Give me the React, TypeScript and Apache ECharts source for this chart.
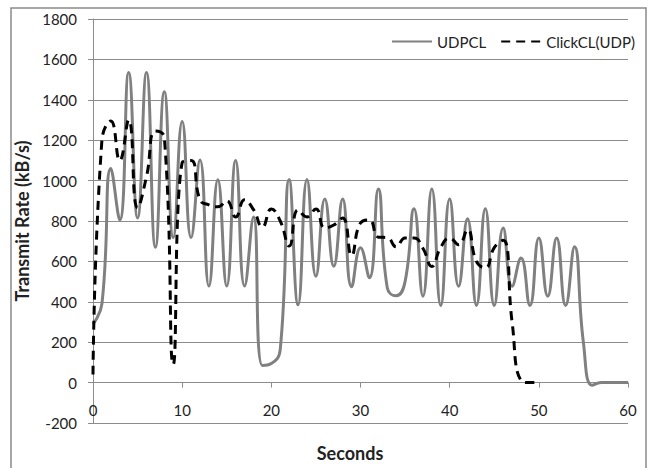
import React, { useEffect, useRef } from "react";
import * as echarts from "echarts";

const seconds = [
  0, 1, 2, 3, 4, 5, 6, 7, 8, 9, 10, 11, 12, 13, 14, 15, 16, 17, 18, 19, 20,
  21, 22, 23, 24, 25, 26, 27, 28, 29, 30, 31, 32, 33, 34, 35, 36, 37, 38, 39, 40,
  41, 42, 43, 44, 45, 46, 47, 48, 49, 50, 51, 52, 53, 54, 55, 56, 57, 58, 59, 60,
];

const udpcl = [
  290, 390, 1060, 805, 1535, 815, 1535, 670, 1440, 718, 1292,
  718, 1102, 478, 1004, 478, 1100, 478, 820, 85, 95,
  165, 1006, 385, 1006, 527, 909, 576, 909, 474, 667,
  519, 958, 470, 430, 500, 861, 428, 958, 382, 909,
  477, 811, 382, 861, 382, 765, 477, 617, 382, 716,
  428, 716, 382, 672, 198, -13, 0, 0, 0, 0,
];

const clickcl = [
  40, 1200, 1295, 1100, 1300, 865, 1020, 1245, 1215, 90, 1090,
  1100, 905, 880, 870, 900, 820, 905, 856, 770, 860,
  800, 676, 855, 820, 860, 765, 780, 815, 630, 790,
  805, 720, 718, 672, 716, 716, 665, 575, 670, 716,
  683, 757, 600, 568, 668, 705, 300, 10, 0, 0,
];

const seriesNames = ["UDPCL", "ClickCL(UDP)"];
const FONT = 'Lato, "Open Sans", sans-serif';

export default function App() {
  const ref = useRef<HTMLDivElement>(null);

  useEffect(() => {
    const chart = echarts.init(ref.current!, null, { renderer: "svg" });
    const udpData = udpcl.map((v, i) => [seconds[i], v]);
    const clickData = clickcl.map((v, i) => [seconds[i], v]);
    const plotTop = 19;
    const plotBottom = 423;
    const yMin = -200;
    const yMax = 1800;
    // distance from bottom of plot to the zero line, in pixels
    const zeroOffset = ((0 - yMin) / (yMax - yMin)) * (plotBottom - plotTop);
    chart.setOption({
      animation: false,
      backgroundColor: "#ffffff",
      textStyle: { fontFamily: FONT },
      grid: { left: 93, right: 22, top: plotTop, bottom: 468 - plotBottom, containLabel: false },
      legend: {
        data: seriesNames,
        right: 10,
        top: 29,
        itemWidth: 40,
        itemHeight: 14,
        itemGap: 14,
        itemStyle: { opacity: 0 },
        textStyle: { fontFamily: FONT, fontSize: 15, color: "#222" },
      },
      xAxis: {
        type: "value",
        min: 0,
        max: 60,
        interval: 10,
        offset: -zeroOffset,
        axisLine: { show: true, onZero: false, lineStyle: { color: "#8c8c8c", width: 1 } },
        axisTick: { show: true, length: 5, lineStyle: { color: "#8c8c8c" } },
        axisLabel: { margin: 20, fontSize: 15, color: "#222", fontFamily: FONT },
        splitLine: { show: false },
      },
      yAxis: {
        type: "value",
        min: yMin,
        max: yMax,
        interval: 200,
        name: "Transmit Rate (kB/s)",
        nameLocation: "middle",
        nameGap: 60,
        nameTextStyle: { fontSize: 18, fontWeight: "bold", color: "#222", fontFamily: FONT },
        axisLine: { show: true, onZero: false, lineStyle: { color: "#8c8c8c", width: 1 } },
        axisTick: { show: true, length: 5, lineStyle: { color: "#8c8c8c" } },
        axisLabel: {
          margin: 16,
          fontSize: 15,
          color: "#222",
          fontFamily: FONT,
          formatter: (v: number) => String(v),
        },
        splitLine: { show: true, lineStyle: { color: "#8c8c8c", width: 1 } },
      },
      graphic: [
        {
          type: "rect",
          shape: { x: 11, y: 8, width: 635, height: 480 },
          style: { fill: "none", stroke: "#8a8a8a", lineWidth: 1.5 },
          silent: true,
          z: -1,
        },
        {
          type: "text",
          x: 350,
          y: 453,
          style: {
            text: "Seconds",
            fontFamily: FONT,
            fontSize: 18,
            fontWeight: "bold",
            fill: "#222",
            align: "center",
            verticalAlign: "middle",
          },
        },
      ],
      series: [
        {
          name: seriesNames[0],
          type: "line",
          data: udpData,
          smooth: 0.5,
          symbol: "none",
          lineStyle: { color: "#808080", width: 3 },
          itemStyle: { color: "#808080" },
          z: 2,
        },
        {
          name: seriesNames[1],
          type: "line",
          data: clickData,
          smooth: 0.5,
          symbol: "none",
          lineStyle: { color: "#000000", width: 3, type: [9, 6] },
          itemStyle: { color: "#000000" },
          z: 3,
        },
      ],
    });
    return () => chart.dispose();
  }, []);

  return (
    <div
      ref={ref}
      style={{ position: "fixed", left: 0, top: 0, width: 650, height: 468, background: "#fff" }}
    />
  );
}
